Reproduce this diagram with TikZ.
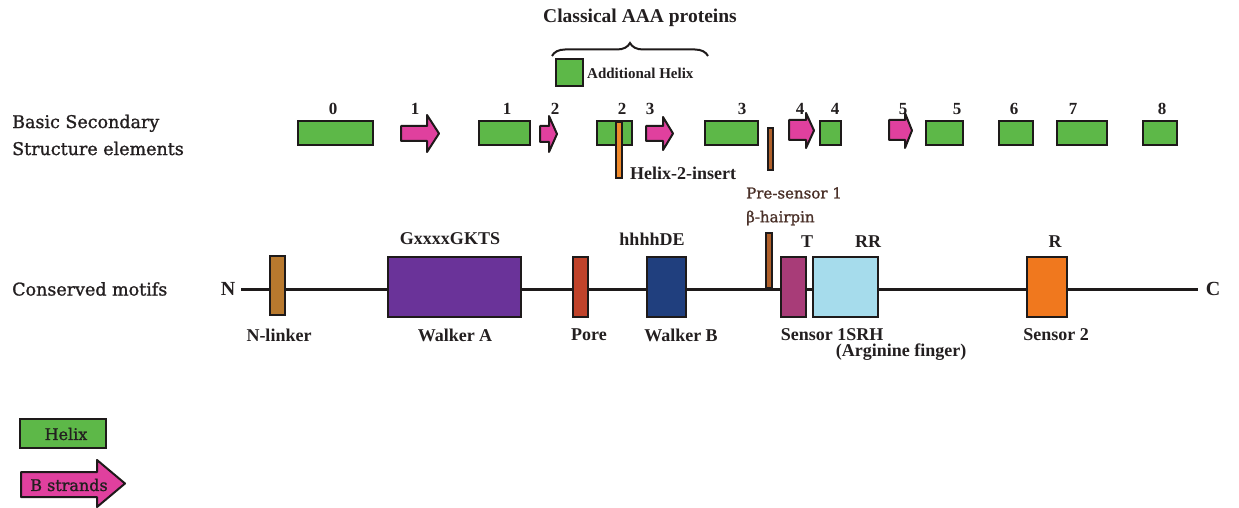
\documentclass[tikz,border=0pt]{standalone}
\usepackage{fontspec}
\setmainfont{Liberation Serif}
\newfontfamily\djv{DejaVu Serif}[FakeBold=1.2]
\usetikzlibrary{decorations.pathreplacing}
\definecolor{outl}{HTML}{1E1A1A}
\definecolor{txt}{HTML}{231F20}
\definecolor{helixg}{HTML}{5DB848}
\definecolor{strandm}{HTML}{E0409E}
\definecolor{nlink}{HTML}{B8792E}
\definecolor{walkA}{HTML}{6A3399}
\definecolor{porec}{HTML}{C0432B}
\definecolor{walkB}{HTML}{203F7E}
\definecolor{sensA}{HTML}{A83C78}
\definecolor{srhc}{HTML}{A6DCEC}
\definecolor{sensB}{HTML}{F0781E}
\definecolor{insertc}{HTML}{F08A2A}
\definecolor{presc}{HTML}{B0602A}
\definecolor{prestxt}{HTML}{4A3028}
\newcommand{\strandpoly}[7]{%
  \draw[strandst] (#1,#4) -- (#2,#4) -- (#2,#6) -- (#3,{(#6+#7)/2}) -- (#2,#7) -- (#2,#5) -- (#1,#5) -- cycle;}
\tikzset{
  helixst/.style={draw=outl, line width=2.2pt, fill=helixg},
  strandst/.style={draw=outl, line width=2pt, fill=strandm, line join=round},
  motifst/.style={draw=outl, line width=2.2pt},
  barst/.style={draw=outl, line width=1.2pt},
  lbl/.style={font=\fontsize{18}{20}\selectfont\bfseries, text=txt, inner sep=0pt},
  numst/.style={font=\fontsize{17}{19}\selectfont\bfseries, text=txt, inner sep=0pt},
  ttl/.style={font=\djv\fontsize{17.5}{27}\selectfont, text=txt, inner sep=0pt, align=left},
}
\begin{document}
\begin{tikzpicture}[x=1pt,y=-1pt]
\useasboundingbox (0,0) rectangle (1239,508);
% titles
\node[lbl, font=\fontsize{19.5}{21}\selectfont\bfseries] (classical) at (640,18) {Classical AAA proteins};
\draw[outl, line width=2pt, decorate, decoration={brace, amplitude=13pt, aspect=0.5}] (552,56) -- (708,56);
\draw[helixst] (556,59) rectangle (583,86);
\node[lbl, font=\fontsize{15}{17}\selectfont\bfseries, anchor=west] (addhelix) at (587,73) {Additional Helix};
\node[ttl, anchor=west] (basic) at (12,135) {Basic Secondary\\Structure elements};
\node[ttl, anchor=west] (consm) at (12,289) {Conserved motifs};
% helices
\foreach \a/\b in {298/373,479/530,597/632,705/758,820/841,926/963,999/1033,1057/1107,1143/1177}
  \draw[helixst] (\a,121) rectangle (\b,145);
% strands
\strandpoly{401}{427}{439}{126}{141}{115}{152}
\strandpoly{540}{549}{557}{126}{142}{116}{152}
\strandpoly{646}{663}{673}{126}{141}{117}{150}
\strandpoly{789}{806}{814}{120}{140}{113}{148}
\strandpoly{889}{905}{912}{120}{140}{113}{148}
% numbers
\node[numst] (n0) at (333,109) {0};
\node[numst] (s1) at (415,109) {1};
\node[numst] (n1) at (507,109) {1};
\node[numst] (s2) at (555,109) {2};
\node[numst] (n2) at (622,109) {2};
\node[numst] (s3) at (650,109) {3};
\node[numst] (n3) at (742,109) {3};
\node[numst] (s4) at (800,109) {4};
\node[numst] (n4) at (835,109) {4};
\node[numst] (s5) at (903,109) {5};
\node[numst] (n5) at (957,109) {5};
\node[numst] (n6) at (1014,109) {6};
\node[numst] (n7) at (1073,109) {7};
\node[numst] (n8) at (1162,109) {8};
% insert bars
\draw[barst, fill=insertc] (616,122) rectangle (622,178);
\node[lbl, anchor=west] (h2ins) at (630,173) {Helix-2-insert};
\draw[barst, fill=presc] (768,128) rectangle (773,170);
\node[font=\djv\fontsize{15}{17}\selectfont, text=prestxt, inner sep=0pt, anchor=west] (pres) at (746,193) {Pre-sensor 1};
\node[font=\djv\fontsize{15}{17}\selectfont, text=prestxt, inner sep=0pt, anchor=west] (bhp) at (746,218) {β-hairpin};
% main chain
\node[lbl, font=\fontsize{20}{22}\selectfont\bfseries] (nterm) at (228,289) {N};
\node[lbl, font=\fontsize{20}{22}\selectfont\bfseries] (cterm) at (1213,289) {C};
\draw[outl, line width=3pt] (nterm.east) ++(6,0) coordinate (lstart) -- (1198,289) coordinate (lend);
\draw[barst, fill=presc] (766,233) rectangle (772,288);
\draw[motifst, fill=nlink] (270,256) rectangle (285,315);
\draw[motifst, fill=walkA] (388,257) rectangle (521,317);
\draw[motifst, fill=porec] (573,257) rectangle (588,317);
\draw[motifst, fill=walkB] (647,257) rectangle (686,317);
\draw[motifst, fill=sensA] (781,257) rectangle (806,317);
\draw[motifst, fill=srhc] (813,257) rectangle (878,317);
\draw[motifst, fill=sensB] (1027,257) rectangle (1067,317);
% motif labels
\node[lbl] (gx) at (450,239) {GxxxxGKTS};
\node[lbl] (hh) at (652,239) {hhhhDE};
\node[lbl] (tl) at (807,242) {T};
\node[lbl] (rr) at (868,242) {RR};
\node[lbl] (rl) at (1055,242) {R};
\node[lbl] (nlk) at (279,335) {N-linker};
\node[lbl] (wa) at (455,335) {Walker A};
\node[lbl] (pore) at (589,335) {Pore};
\node[lbl] (wb) at (681,335) {Walker B};
\node[lbl] (s1srh) at (832,335) {Sensor 1SRH};
\node[lbl] (arg) at (901,352) {(Arginine finger)};
\node[lbl] (sen2) at (1056,335) {Sensor 2};
% legend
\draw[helixst] (20,419) rectangle (106,448);
\node[font=\djv\fontsize{16}{18}\selectfont, text=txt, inner sep=0pt] (lhelix) at (66,434) {Helix};
\strandpoly{21}{97}{125}{472}{497}{460}{507}
\node[font=\djv\fontsize{16}{18}\selectfont, text=txt, inner sep=0pt] (lstrand) at (69,485) {B strands};
\end{tikzpicture}
\end{document}
